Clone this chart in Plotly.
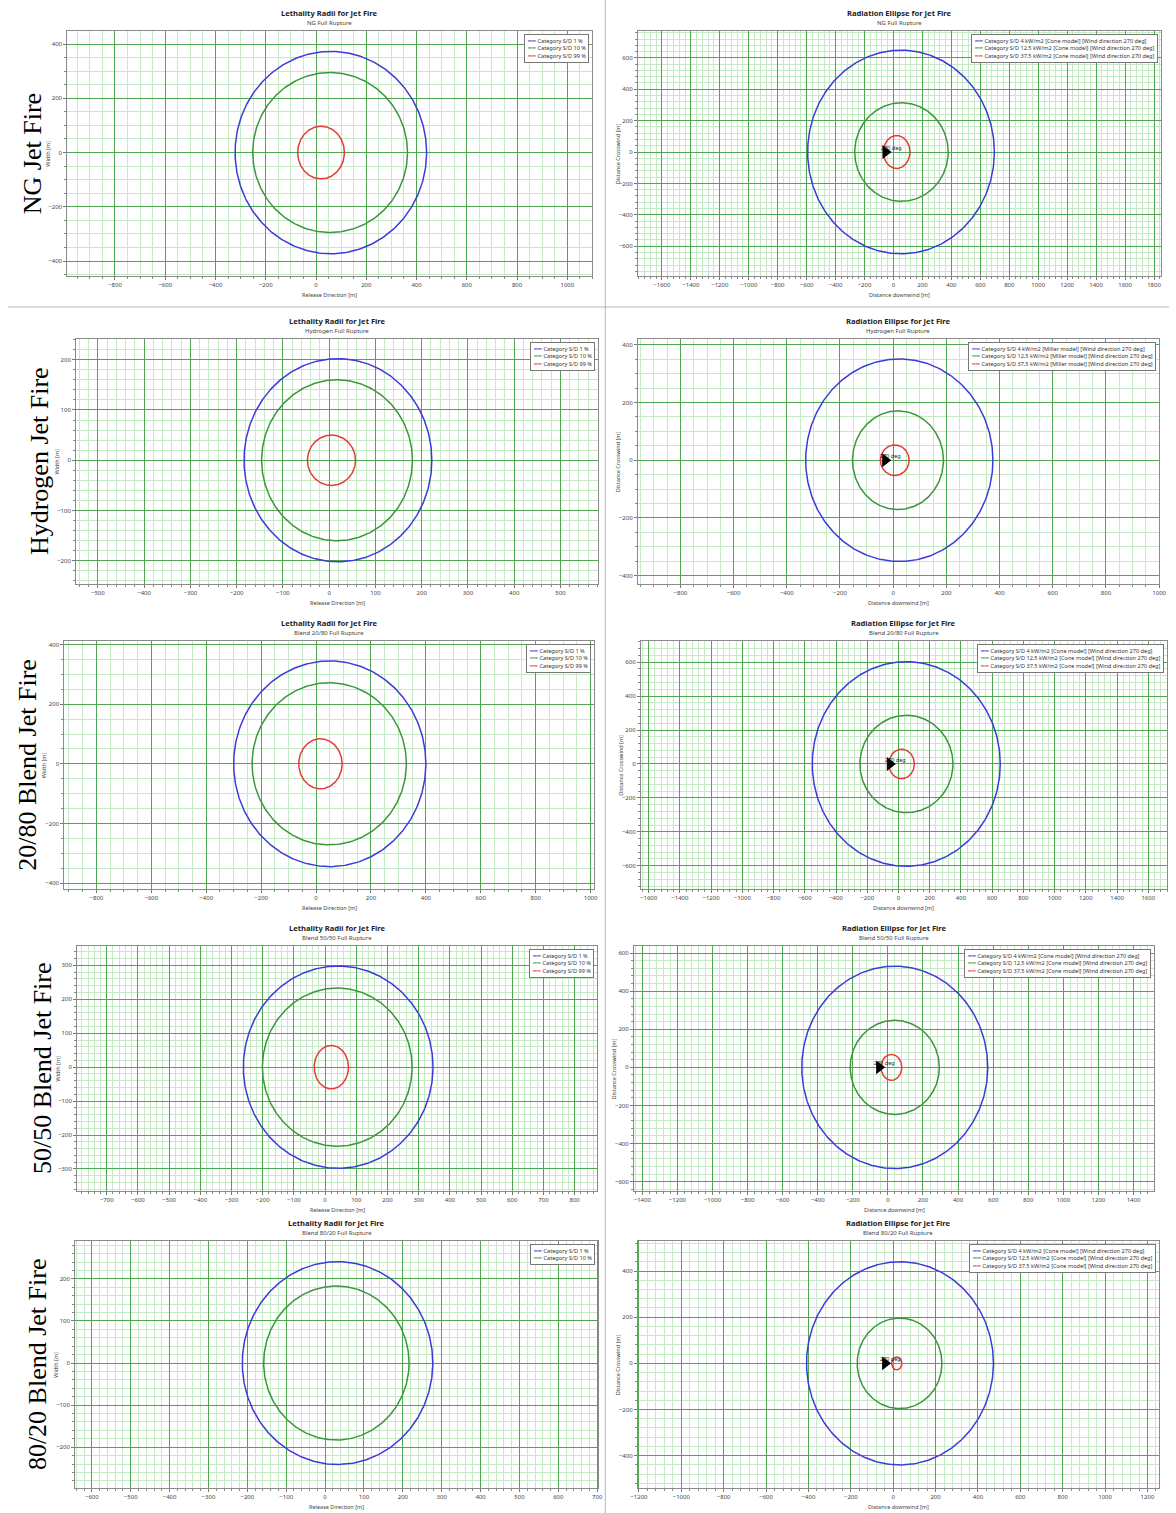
import numpy as np
import plotly.graph_objects as go

W, H = 1176, 1513

# ---------------- data ----------------
ROW_LABELS = ["NG Jet Fire", "Hydrogen Jet Fire", "20/80 Blend Jet Fire",
              "50/50 Blend Jet Fire", "80/20 Blend Jet Fire"]
SUBTITLES = ["NG Full Rupture", "Hydrogen Full Rupture", "Blend 20/80 Full Rupture",
             "Blend 50/50 Full Rupture", "Blend 80/20 Full Rupture"]
LETH_TITLE = "Lethality Radii for Jet Fire"
RAD_TITLE = "Radiation Ellipse for Jet Fire"
LETH_CATEGORIES = ["Category S/D 1 %", "Category S/D 10 %", "Category S/D 99 %"]
RAD_LEVELS = ["4", "12.5", "37.5"]
RAD_MODELS = ["Cone", "Miller", "Cone", "Cone", "Cone"]
WIND_DIRECTION = 270

# lethality contours (m): centre on release axis, semi-axis along, semi-axis across
leth_cx = [[59, 56, 20], [19, 17, 5], [50, 48, 16], [42, 39, 20], [32, 29]]
leth_rx = [[381, 308, 93], [203, 163, 52], [350, 281, 79], [304, 240, 55], [245, 187]]
leth_ry = [[373, 295, 97], [202, 160, 50], [345, 272, 84], [298, 233, 64], [241, 183]]

# radiation ellipses (m)
rad_cx = [[52, 55, 22], [23, 18, 6], [50, 51, 20], [39, 39, 20], [32, 30, 17]]
rad_rx = [[645, 323, 92], [352, 171, 54], [602, 298, 82], [530, 254, 59], [441, 200, 24]]
rad_ry = [[649, 314, 105], [351, 171, 53], [603, 287, 87], [531, 247, 68], [440, 196, 28]]

# wind direction marker position (m, downwind)
wind_x = [-55, -30, -55, -50, -38]

# axis ranges and tick steps
leth_xrange = [[-990, 1100], [-547, 582], [-917, 1014], [-795, 873], [-643, 703]]
leth_yrange = [[-455, 448], [-246, 241], [-420, 412], [-365, 357], [-297, 290]]
leth_dtick = [200, 100, 200, 100, 100]
rad_xrange = [[-1766, 1849], [-960, 1000], [-1650, 1720], [-1448, 1518], [-1205, 1255]]
rad_yrange = [[-790, 771], [-429, 420], [-737, 725], [-649, 637], [-540, 530]]
rad_dtick = [200, 200, 200, 200, 200]

# ---------------- layout (pixel boxes of plot areas) ----------------
LEFT_BOX = [(60, 592, 31, 276), (69, 598, 339, 584), (57, 594, 641, 889),
            (70, 597, 946, 1191), (68, 598, 1241, 1488)]
RIGHT_BOX = [(638, 1168, 31, 276), (638, 1166, 339, 584), (641, 1174, 641, 889),
             (634, 1161, 946, 1191), (638, 1166, 1241, 1488)]
LEFT_MINOR = [4, 5, 4, 5, 5]
RIGHT_MINOR = [5, 4, 5, 5, 5]
LABEL_X = [25, 32, 19, 35, 30]

COLORS = ["#3b3bd9", "#3a973a", "#e63a3a"]
MAJOR_GRID = "#4fa84f"
MINOR_GRID = "#c6eac6"
FONT = "Noto Sans, Open Sans, sans-serif"

fig = go.Figure()
annotations = []
shapes = []
layout_axes = {}


def ellipse(cx, rx, ry):
    t = np.linspace(0, 2 * np.pi, 361)
    return cx + rx * np.cos(t), ry * np.sin(t)


def add_axes(k, box, xr, yr, dtick, nminor, xtitle, ytitle):
    x0, x1, y0, y1 = box
    common = dict(
        showline=True, mirror=True, linecolor="#8a8a8a", linewidth=1,
        showgrid=True, gridcolor=MAJOR_GRID, gridwidth=1, zeroline=False,
        ticks="outside", ticklen=3, tickcolor="#777", tickwidth=1,
        tickfont=dict(size=6, color="#444", family=FONT),
        dtick=dtick, tick0=0,
        minor=dict(dtick=dtick / nminor, tick0=0, showgrid=True, gridcolor=MINOR_GRID,
                   gridwidth=1, ticks="outside", ticklen=2, tickcolor="#888"),
        fixedrange=True,
    )
    sfx = "" if k == 1 else str(k)
    layout_axes["xaxis" + sfx] = dict(common, domain=[x0 / W, x1 / W], range=xr,
                                      anchor="y" + sfx)
    layout_axes["yaxis" + sfx] = dict(common, domain=[1 - y1 / H, 1 - y0 / H], range=yr,
                                      anchor="x" + sfx)
    xd, yd = "x" + sfx + " domain", "y" + sfx + " domain"
    annotations.append(dict(xref=xd, yref=yd, x=0.5, y=0, yanchor="middle", yshift=-19,
                            text=xtitle, showarrow=False,
                            font=dict(size=5.5, color="#444", family=FONT)))
    annotations.append(dict(xref=xd, yref=yd, x=0, y=0.5, xanchor="center", xshift=-20,
                            text=ytitle, textangle=-90, showarrow=False,
                            font=dict(size=5.5, color="#444", family=FONT)))
    return xd, yd, "x" + sfx, "y" + sfx


def add_titles_and_legend(xd, yd, title, subtitle, names):
    annotations.append(dict(xref=xd, yref=yd, x=0.5, y=1, yanchor="middle", yshift=18,
                            text="<b>" + title + "</b>", showarrow=False,
                            font=dict(size=7.6, color="#222", family=FONT)))
    annotations.append(dict(xref=xd, yref=yd, x=0.5, y=1, yanchor="middle", yshift=8,
                            text=subtitle, showarrow=False,
                            font=dict(size=6, color="#444", family=FONT)))
    legend_text = "<br>".join(
        "<span style='color:%s'>━━</span> %s" % (c, n) for c, n in names)
    annotations.append(dict(xref=xd, yref=yd, x=1, y=1, xanchor="right", yanchor="top",
                            xshift=-3, yshift=-3, text=legend_text, align="left",
                            showarrow=False, bgcolor="white", bordercolor="#777",
                            borderwidth=1, borderpad=2,
                            font=dict(size=5.6, color="#333", family=FONT)))


for r in range(5):
    # ---- lethality panel ----
    k = 2 * r + 1
    xd, yd, xa, ya = add_axes(k, LEFT_BOX[r], leth_xrange[r], leth_yrange[r],
                              leth_dtick[r], LEFT_MINOR[r],
                              "Release Direction [m]", "Width [m]")
    names = []
    for j in range(len(leth_cx[r])):
        ex, ey = ellipse(leth_cx[r][j], leth_rx[r][j], leth_ry[r][j])
        fig.add_trace(go.Scatter(x=ex, y=ey, mode="lines", xaxis=xa, yaxis=ya,
                                 line=dict(color=COLORS[j], width=1.5),
                                 name=LETH_CATEGORIES[j], showlegend=False,
                                 hoverinfo="skip"))
        names.append((COLORS[j], LETH_CATEGORIES[j]))
    add_titles_and_legend(xd, yd, LETH_TITLE, SUBTITLES[r], names)

    # ---- radiation panel ----
    k = 2 * r + 2
    xd, yd, xa, ya = add_axes(k, RIGHT_BOX[r], rad_xrange[r], rad_yrange[r],
                              rad_dtick[r], RIGHT_MINOR[r],
                              "Distance downwind [m]", "Distance Crosswind [m]")
    names = []
    for j in range(len(rad_cx[r])):
        label = "Category S/D %s kW/m2 [%s model] [Wind direction %d deg]" % (
            RAD_LEVELS[j], RAD_MODELS[r], WIND_DIRECTION)
        ex, ey = ellipse(rad_cx[r][j], rad_rx[r][j], rad_ry[r][j])
        fig.add_trace(go.Scatter(x=ex, y=ey, mode="lines", xaxis=xa, yaxis=ya,
                                 line=dict(color=COLORS[j], width=1.5),
                                 name=label, showlegend=False, hoverinfo="skip"))
        names.append((COLORS[j], label))
    fig.add_trace(go.Scatter(x=[wind_x[r]], y=[0], mode="markers", xaxis=xa, yaxis=ya,
                             marker=dict(symbol="triangle-right", size=12, color="black"),
                             showlegend=False, hoverinfo="skip"))
    annotations.append(dict(xref=xa, yref=ya, x=wind_x[r], y=0, xanchor="left",
                            yanchor="middle", xshift=-7, yshift=4,
                            text="%d deg" % WIND_DIRECTION, showarrow=False,
                            font=dict(size=5.5, color="#222", family=FONT)))
    add_titles_and_legend(xd, yd, RAD_TITLE, SUBTITLES[r], names)

    # ---- row label ----
    box = LEFT_BOX[r]
    annotations.append(dict(xref="paper", yref="paper", x=LABEL_X[r] / W,
                            y=1 - (box[2] + box[3]) / 2 / H, xanchor="center",
                            yanchor="middle", text=ROW_LABELS[r], textangle=-90,
                            showarrow=False,
                            font=dict(size=26, color="black",
                                      family="Liberation Serif, Times New Roman, serif")))

# separators
shapes.append(dict(type="line", xref="paper", yref="paper", x0=605 / W, x1=605 / W,
                   y0=0, y1=1, line=dict(color="#b5b5b5", width=1)))
shapes.append(dict(type="line", xref="paper", yref="paper", x0=0, x1=1,
                   y0=1 - 307 / H, y1=1 - 307 / H, line=dict(color="#b5b5b5", width=1)))

fig.update_layout(
    width=W, height=H, autosize=False,
    margin=dict(l=0, r=0, t=0, b=0),
    paper_bgcolor="white", plot_bgcolor="white",
    showlegend=False, annotations=annotations, shapes=shapes,
    font=dict(family=FONT),
    **layout_axes,
)

fig.write_html("out.html", config={"displayModeBar": False, "staticPlot": True},
               post_script="document.body.style.margin='0px';"
                           "document.body.style.overflow='hidden';")
